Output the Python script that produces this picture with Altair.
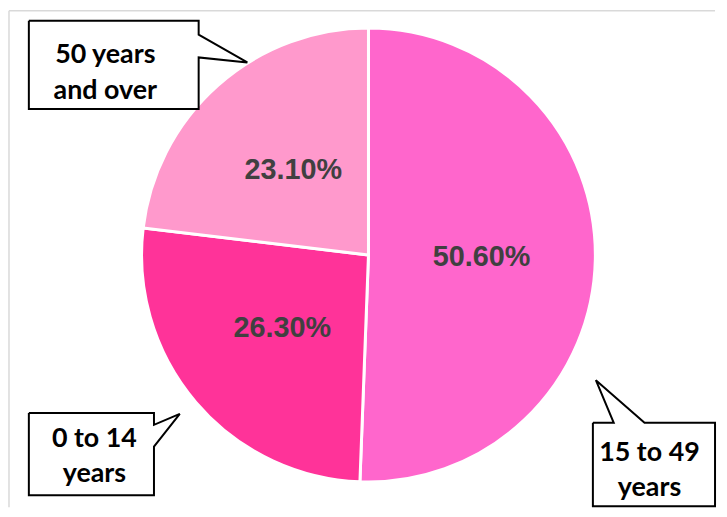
import altair as alt
import pandas as pd

# Data
categories = ["15 to 49 years", "0 to 14 years", "50 years and over"]
shares = [0.506, 0.263, 0.231]
colors = ["#FF66CC", "#FF3399", "#FF99CC"]

# Callout annotation text (one entry per category)
callout_lines = [["15 to 49", "years"], ["0 to 14", "years"], ["50 years", "and over"]]

W, H = 711, 501
CX, CY, R = 362, 247, 228.5

pie_df = pd.DataFrame({"cat": categories, "share": shares, "idx": list(range(len(categories)))})

base = alt.Chart(pie_df).encode(
    theta=alt.Theta("share:Q", stack=True),
    order=alt.Order("idx:Q"),
)

arcs = base.mark_arc(radius=R, stroke="white", strokeWidth=3).encode(
    color=alt.Color("cat:N", scale=alt.Scale(domain=categories, range=colors), legend=None),
    x=alt.value(CX), y=alt.value(CY),
)

pct = base.mark_text(radius=114, font="Liberation Sans", fontWeight="bold", fontSize=29,
                     color="#404040", align="center", baseline="middle").encode(
    text=alt.Text("share:Q", format=".2%"),
    x=alt.value(CX), y=alt.value(CY),
)

# Callout shapes (annotation geometry, view pixels)
callout_shapes = {
    "15 to 49 years": [(588, 416), (609, 416), (591, 373), (640, 416), (711, 416), (711, 500), (588, 500), (588, 416)],
    "0 to 14 years": [(20, 406), (146, 406), (146, 418), (172, 407), (146, 440), (146, 489), (20, 489), (20, 406)],
    "50 years and over": [(20, 11), (191, 11), (191, 25), (240, 53), (191, 48), (191, 100), (20, 100), (20, 11)],
}
callout_text_pos = {
    "15 to 49 years": (645, 454),
    "0 to 14 years": (86, 440),
    "50 years and over": (97, 54),
}

rows = []
for c in categories:
    for i, (px, py) in enumerate(callout_shapes[c]):
        rows.append({"cat": c, "i": i, "px": px, "py": py})
shape_df = pd.DataFrame(rows)

boxes = alt.Chart(shape_df).mark_line(fill="white", stroke="black", strokeWidth=2,
                                       strokeJoin="miter").encode(
    x=alt.X("px:Q", scale=None, axis=None),
    y=alt.Y("py:Q", scale=None, axis=None),
    detail="cat:N",
    order="i:Q",
)

trows = []
for c, lines in zip(categories, callout_lines):
    tx, ty = callout_text_pos[c]
    trows.append({"cat": c, "tx": tx, "ty": ty, "label": lines})
text_df = pd.DataFrame(trows)

callout_text = alt.Chart(text_df).mark_text(font="Lato", fontWeight="bold", fontSize=27,
                                            color="black", align="center", baseline="alphabetic",
                                            lineHeight=36).encode(
    x=alt.X("tx:Q", scale=None, axis=None),
    y=alt.Y("ty:Q", scale=None, axis=None),
    text="label",
)

frame_df = pd.DataFrame({"a": [0]})
top_rule = alt.Chart(frame_df).mark_rule(color="#d9d9d9", strokeWidth=1.5).encode(
    x=alt.value(0), x2=alt.value(W), y=alt.value(1))
left_rule = alt.Chart(frame_df).mark_rule(color="#d9d9d9", strokeWidth=1.5).encode(
    x=alt.value(0), y=alt.value(1), y2=alt.value(H))

chart = alt.layer(top_rule, left_rule, arcs, pct, boxes, callout_text).resolve_scale(
    x="independent", y="independent", theta="independent"
).properties(width=W, height=H, padding=0).configure_view(stroke=None)

chart.save("out.html", embed_options={"renderer": "svg", "actions": False})
